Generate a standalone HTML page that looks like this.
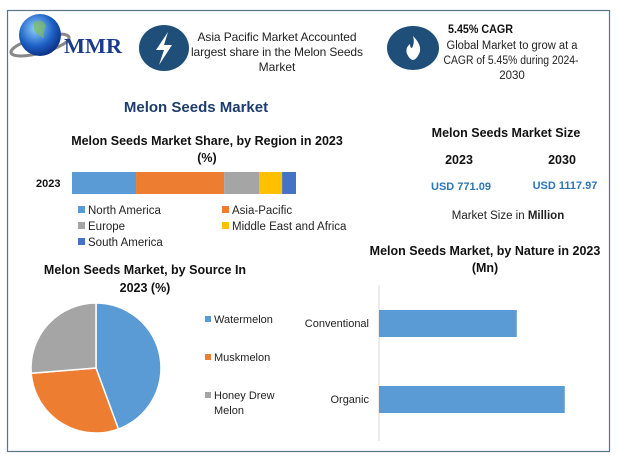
<!DOCTYPE html>
<html><head><meta charset="utf-8">
<style>
body{margin:0;width:618px;height:460px;background:#fff;overflow:hidden;font-family:"Liberation Sans",sans-serif}
svg{display:block}
text{font-family:"Liberation Sans",sans-serif}
</style></head>
<body>
<svg id="s" width="618" height="460" viewBox="0 0 618 460">
<rect x="7.5" y="10.5" width="602" height="441" fill="#fff" stroke="#5a7488" stroke-width="1.2"/>
<g>
<defs><radialGradient id="gl" cx="0.4" cy="0.35" r="0.7"><stop offset="0" stop-color="#8fd0ff"/><stop offset="0.6" stop-color="#1d5fc4"/><stop offset="1" stop-color="#0a2a7a"/></radialGradient></defs>
<ellipse cx="40" cy="45" rx="30" ry="8" fill="none" stroke="#888" stroke-width="3" transform="rotate(-15 40 45)"/>
<circle cx="40" cy="35" r="21" fill="url(#gl)"/>
<path d="M34 22 q8 -4 12 4 q-4 6 -2 12 q-6 -2 -10 -8z" fill="#7dbb5a" opacity="0.7"/>
<text x="64" y="53" style="font-family:'Liberation Serif',serif" font-weight="bold" font-size="21" fill="#1a3a8c" textLength="58" lengthAdjust="spacingAndGlyphs">MMR</text>
</g>
<g>
<ellipse cx="164" cy="48" rx="25" ry="23" fill="#1f4e79"/>
<path d="M168 32 L156 50 L164 50 L159 65 L172 45 L164 45 Z" fill="#fff"/>
<text font-size="12" fill="#222" text-anchor="middle" lengthAdjust="spacingAndGlyphs"><tspan x="277" y="41" textLength="159">Asia Pacific Market Accounted</tspan><tspan x="277" y="56" textLength="172">largest share in the Melon Seeds</tspan><tspan x="277" y="71">Market</tspan></text>
</g>
<g>
<ellipse cx="413" cy="48" rx="26" ry="22" fill="#1f4e79"/>
<path d="M413 36 q10 10 6 18 q-3 6 -6 6 q-3 0 -6 -6 q-2 -6 3 -10 q0 4 2 4 q3 -5 1 -12z" fill="#fff"/>
<text x="448" y="33" font-size="12" font-weight="bold" fill="#111" textLength="65" lengthAdjust="spacingAndGlyphs">5.45% CAGR</text>
<text font-size="11.5" fill="#222" text-anchor="middle"><tspan x="512" y="49" textLength="131" lengthAdjust="spacingAndGlyphs">Global Market to grow at a</tspan><tspan x="511" y="64" textLength="135" lengthAdjust="spacingAndGlyphs">CAGR of 5.45% during 2024-</tspan><tspan x="512" y="79">2030</tspan></text>
</g>
<text x="196" y="112" font-size="15" font-weight="bold" fill="#1f3c6e" text-anchor="middle">Melon Seeds Market</text>

<text font-size="12.5" font-weight="bold" fill="#111" text-anchor="middle"><tspan x="207" y="145">Melon Seeds Market Share, by Region in 2023</tspan><tspan x="207" y="162">(%)</tspan></text>
<text x="36" y="187" font-size="11" font-weight="bold" fill="#111">2023</text>
<g id="region"></g>
<g id="regionLegend"></g>

<g>
<text x="506" y="137" font-size="12.5" font-weight="bold" fill="#111" text-anchor="middle">Melon Seeds Market Size</text>
<text x="459" y="164" font-size="12.5" font-weight="bold" fill="#111" text-anchor="middle">2023</text>
<text x="562" y="164" font-size="12.5" font-weight="bold" fill="#111" text-anchor="middle">2030</text>
<text x="461" y="190" font-size="11" font-weight="bold" fill="#2e75b6" text-anchor="middle">USD 771.09</text>
<text x="565" y="189" font-size="11" font-weight="bold" fill="#2e75b6" text-anchor="middle">USD 1117.97</text>
<text x="508" y="219" font-size="11.5" fill="#222" text-anchor="middle">Market Size in <tspan font-weight="bold">Million</tspan></text>
</g>

<text font-size="12.5" font-weight="bold" fill="#111" text-anchor="middle"><tspan x="145" y="274">Melon Seeds Market, by Source In</tspan><tspan x="145" y="292">2023 (%)</tspan></text>
<g id="pie"></g>
<g id="pieLegend"></g>

<text font-size="12.5" font-weight="bold" fill="#111" text-anchor="middle"><tspan x="485" y="255">Melon Seeds Market, by Nature in 2023</tspan><tspan x="485" y="272">(Mn)</tspan></text>
<line x1="379" y1="285" x2="379" y2="441" stroke="#d9d9d9"/>
<g id="nature"></g>
</svg>
<script>
const regionNames=["North America","Asia-Pacific","Europe","Middle East and Africa","South America"];
const regionValues=[28.6,39.3,15.6,10.3,6.2];
const regionColors=["#5b9bd5","#ed7d31","#a5a5a5","#ffc000","#4472c4"];
const sourceNames=["Watermelon","Muskmelon","Honey Drew Melon"];
const sourceValues=[44.4,29.3,26.3];
const sourceColors=["#5b9bd5","#ed7d31","#a5a5a5"];
const natureNames=["Conventional","Organic"];
const natureValues=[310,418];

const NS="http://www.w3.org/2000/svg";
function mk(tag,attrs,parent){const e=document.createElementNS(NS,tag);for(const k in attrs)e.setAttribute(k,attrs[k]);parent.appendChild(e);return e;}

const rx=v=>72+v*(224/100);
let acc=0;const rg=document.getElementById('region');
regionValues.forEach((v,i)=>{
 const r=mk('rect',{x:rx(acc),y:172,width:rx(acc+v)-rx(acc),height:22,fill:regionColors[i]},rg);
 
 
 acc+=v;});
const rl=document.getElementById('regionLegend');
const lpos=[[78,210],[222,210],[78,226],[222,226],[78,242]];
regionNames.forEach((n,i)=>{
 const g=mk('g',{},rl);
 
 
 mk('rect',{x:lpos[i][0],y:lpos[i][1]-4,width:7,height:7,fill:regionColors[i]},g);
 const t=mk('text',{x:lpos[i][0]+10,y:lpos[i][1]+4,'font-size':11.5,fill:'#222'},g);t.textContent=n;});

const cx=96,cy=368,R=65;const pg=document.getElementById('pie');
const tot=sourceValues.reduce((a,b)=>a+b,0);let a0=0;
sourceValues.forEach((v,i)=>{
 const a1=a0+v/tot*2*Math.PI;
 const p=(a)=>[cx+R*Math.sin(a),cy-R*Math.cos(a)];
 const s=p(a0),e=p(a1);
 const path=mk('path',{d:`M${cx} ${cy} L${s[0]} ${s[1]} A${R} ${R} 0 ${a1-a0>Math.PI?1:0} 1 ${e[0]} ${e[1]} Z`,fill:sourceColors[i],stroke:'#fff','stroke-width':1.5},pg);
 
 
 a0=a1;});
const pl=document.getElementById('pieLegend');
const py=[320,358,396];
sourceNames.forEach((n,i)=>{
 const g=mk('g',{},pl);
 
 
 mk('rect',{x:205,y:py[i]-4,width:6,height:6,fill:sourceColors[i]},g);
 const t=mk('text',{x:214,y:py[i]+3,'font-size':11,fill:'#222'},g);
 if(n==="Honey Drew Melon"){t.innerHTML='<tspan x="214">Honey Drew</tspan><tspan x="214" dy="15">Melon</tspan>';}else t.textContent=n;});

const nx=v=>379+v*(200/450);const ng=document.getElementById('nature');
const ny=[310,386];
natureValues.forEach((v,i)=>{
 const r=mk('rect',{x:379,y:ny[i],width:nx(v)-379,height:27,fill:'#5b9bd5'},ng);
 
 
 const t=mk('text',{x:369,y:ny[i]+17,'font-size':11,fill:'#222','text-anchor':'end'},ng);
 
 
 t.textContent=natureNames[i];});
</script>
</body></html>
